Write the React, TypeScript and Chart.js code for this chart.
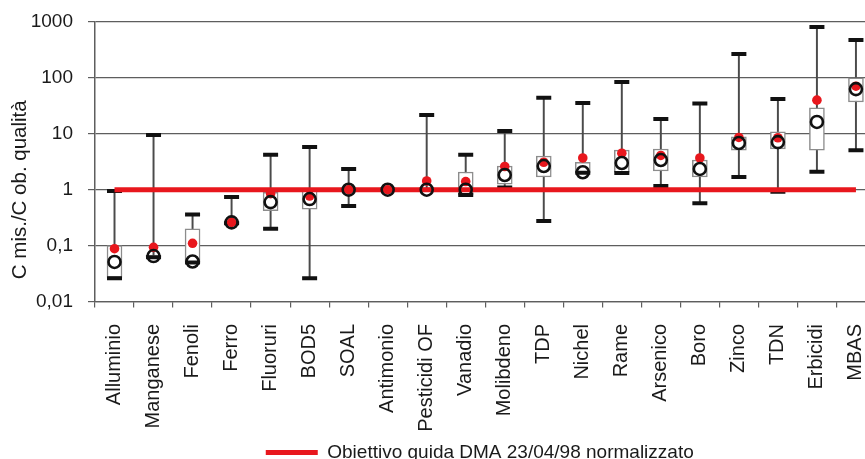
import React, { useEffect, useRef } from 'react';
import { Chart, registerables } from 'chart.js';

Chart.register(...registerables);

// Parameters, in the order shown along the axis
const categories = [
  'Alluminio', 'Manganese', 'Fenoli', 'Ferro', 'Fluoruri', 'BOD5', 'SOAL', 'Antimonio',
  'Pesticidi OF', 'Vanadio', 'Molibdeno', 'TDP', 'Nichel', 'Rame', 'Arsenico', 'Boro',
  'Zinco', 'TDN', 'Erbicidi', 'MBAS',
];

// Ratio measured / quality objective: distribution per parameter
const minValues = [0.026, 0.062, 0.05, 0.25, 0.2, 0.026, 0.51, 1, 1, 0.8, 1.1, 0.275, 2.0, 1.99, 1.16, 0.57, 1.69, 0.92, 2.1, 5.1];
const q1Values = [0.027, 0.062, 0.05, 0.25, 0.42, 0.45, 0.95, 1, 1, 0.8, 1.26, 1.69, 2.0, 2.05, 2.16, 1.69, 5.1, 5.35, 5.1, 37];
const medianValues = [0.051, 0.065, 0.052, 0.26, 0.6, 0.68, 1.0, 1.0, 1.0, 1.0, 1.83, 2.65, 2.05, 3.0, 3.4, 2.35, 6.85, 7.1, 16.3, 63];
const q3Values = [0.1, 0.068, 0.2, 0.27, 0.9, 0.97, 1.05, 1, 1, 2.07, 2.65, 4.0, 3.1, 5.1, 5.35, 3.4, 8.8, 10.8, 29, 100];
const maxValues = [0.95, 9.5, 0.36, 0.74, 4.2, 5.8, 2.35, 1, 21.7, 4.2, 11.2, 44, 35.6, 84.5, 18.4, 35, 268, 42, 814, 476];
const meanValues = [0.088, 0.093, 0.11, 0.26, 0.85, 0.77, 1.0, 1.0, 1.43, 1.4, 2.6, 3.1, 3.7, 4.5, 4.1, 3.7, 8.6, 8.5, 40, 71];

// Normalised guideline level
const targetValue = 1;
const yTickValues = [0.01, 0.1, 1, 10, 100, 1000];

const legendLabel = 'Obiettivo guida DMA 23/04/98 normalizzato';
const yAxisTitle = 'C mis./C ob. qualità';

// the category axis continues past the last parameter
const trailingSlots = 2;

const FONT = "'Liberation Sans', Arial, Helvetica, sans-serif";
const TEXT = '#1a1a1a';
const RED = '#e8171d';
const GRID = '#5e5e5e';

const yTitlePlugin = {
  id: 'yTitle',
  afterDraw(chart: any) {
    const { ctx, chartArea } = chart;
    ctx.save();
    ctx.translate(20, (chartArea.top + chartArea.bottom) / 2 + 28);
    ctx.rotate(-Math.PI / 2);
    ctx.font = `20.5px ${FONT}`;
    ctx.fillStyle = TEXT;
    ctx.textAlign = 'center';
    ctx.textBaseline = 'middle';
    ctx.fillText(yAxisTitle, 0, 0);
    ctx.restore();
  },
};

function formatTick(v: number): string {
  return String(v).replace('.', ',');
}

export default function App() {
  const canvasRef = useRef<HTMLCanvasElement>(null);

  useEffect(() => {
    document.body.style.overflow = 'hidden';
    const canvas = canvasRef.current;
    if (!canvas) return;

    const labels = [...categories, ...Array(trailingSlots).fill('')];
    const whiskers = categories.map((_, i) => [minValues[i], maxValues[i]]);
    const boxes = categories.map((_, i) => [q1Values[i], q3Values[i]]);
    const target = categories.map(() => targetValue);

    const chart = new Chart(canvas, {
      type: 'bar',
      data: {
        labels,
        datasets: [
          {
            type: 'bar',
            label: 'range',
            data: whiskers as any,
            backgroundColor: '#4a4a4a',
            borderWidth: 0,
            barThickness: 1.3,
            grouped: false,
            order: 6,
          },
          {
            type: 'bar',
            label: 'box',
            data: boxes as any,
            backgroundColor: '#ffffff',
            borderColor: '#8c8c8c',
            borderWidth: 1.5,
            borderSkipped: false,
            barThickness: 15,
            grouped: false,
            order: 5,
          },
          {
            type: 'line',
            label: 'min',
            data: minValues,
            showLine: false,
            pointStyle: 'line',
            pointRadius: 7.5,
            pointBorderWidth: 4,
            pointBorderColor: '#111111',
            order: 4,
          },
          {
            type: 'line',
            label: 'max',
            data: maxValues,
            showLine: false,
            pointStyle: 'line',
            pointRadius: 7.5,
            pointBorderWidth: 4,
            pointBorderColor: '#111111',
            order: 4,
          },
          {
            type: 'line',
            label: legendLabel,
            data: target,
            borderColor: RED,
            backgroundColor: RED,
            borderWidth: 5,
            pointRadius: 0,
            order: 3,
          },
          {
            type: 'line',
            label: 'media',
            data: meanValues,
            showLine: false,
            pointStyle: 'circle',
            pointRadius: 4.8,
            pointBorderWidth: 0,
            pointBackgroundColor: RED,
            order: 2,
          },
          {
            type: 'line',
            label: 'mediana',
            data: medianValues,
            showLine: false,
            pointStyle: 'circle',
            pointRadius: 6,
            pointBorderWidth: 2.6,
            pointBorderColor: '#111111',
            pointBackgroundColor: 'rgba(0,0,0,0)',
            order: 1,
          },
        ],
      },
      options: {
        responsive: false,
        animation: false,
        events: [],
        layout: { padding: { top: 22, left: 2.5, right: 8, bottom: 0 } },
        plugins: {
          tooltip: { enabled: false },
          legend: {
            position: 'bottom',
            labels: {
              filter: (item: any) => item.text === legendLabel,
              usePointStyle: true,
              pointStyle: 'line',
              pointStyleWidth: 52,
              color: TEXT,
              font: { family: FONT, size: 19 },
            },
          },
        },
        scales: {
          x: {
            type: 'category',
            offset: true,
            afterFit: (scale: any) => {
              scale.height = 131.5;
              scale.paddingLeft = 0;
              scale.paddingRight = 0;
            },
            grid: {
              offset: true,
              drawOnChartArea: false,
              drawTicks: true,
              tickLength: 6,
              color: GRID,
              lineWidth: 1.2,
            },
            border: { display: true, color: GRID, width: 1.2 },
            ticks: {
              autoSkip: false,
              minRotation: 90,
              maxRotation: 90,
              padding: 16.5,
              color: TEXT,
              font: { family: FONT, size: 20 },
            },
          },
          y: {
            type: 'logarithmic',
            min: 0.01,
            max: 1000,
            afterFit: (scale: any) => {
              scale.width = 92.5;
              scale.paddingTop = 0;
              scale.paddingBottom = 0;
            },
            afterBuildTicks: (scale: any) => {
              scale.ticks = yTickValues.map((value) => ({ value }));
            },
            grid: {
              color: GRID,
              lineWidth: 1.2,
              tickLength: 7,
            },
            border: { display: true, color: GRID, width: 1.5 },
            ticks: {
              padding: 15,
              color: TEXT,
              font: { family: FONT, size: 19 },
              callback: (value: any) => formatTick(Number(value)),
            },
          },
        },
      },
      plugins: [yTitlePlugin],
    });

    return () => chart.destroy();
  }, []);

  return (
    <div style={{ position: 'fixed', left: 0, top: 0, width: 965, height: 472 }}>
      <canvas ref={canvasRef} width={965} height={472} style={{ display: 'block' }} />
    </div>
  );
}
